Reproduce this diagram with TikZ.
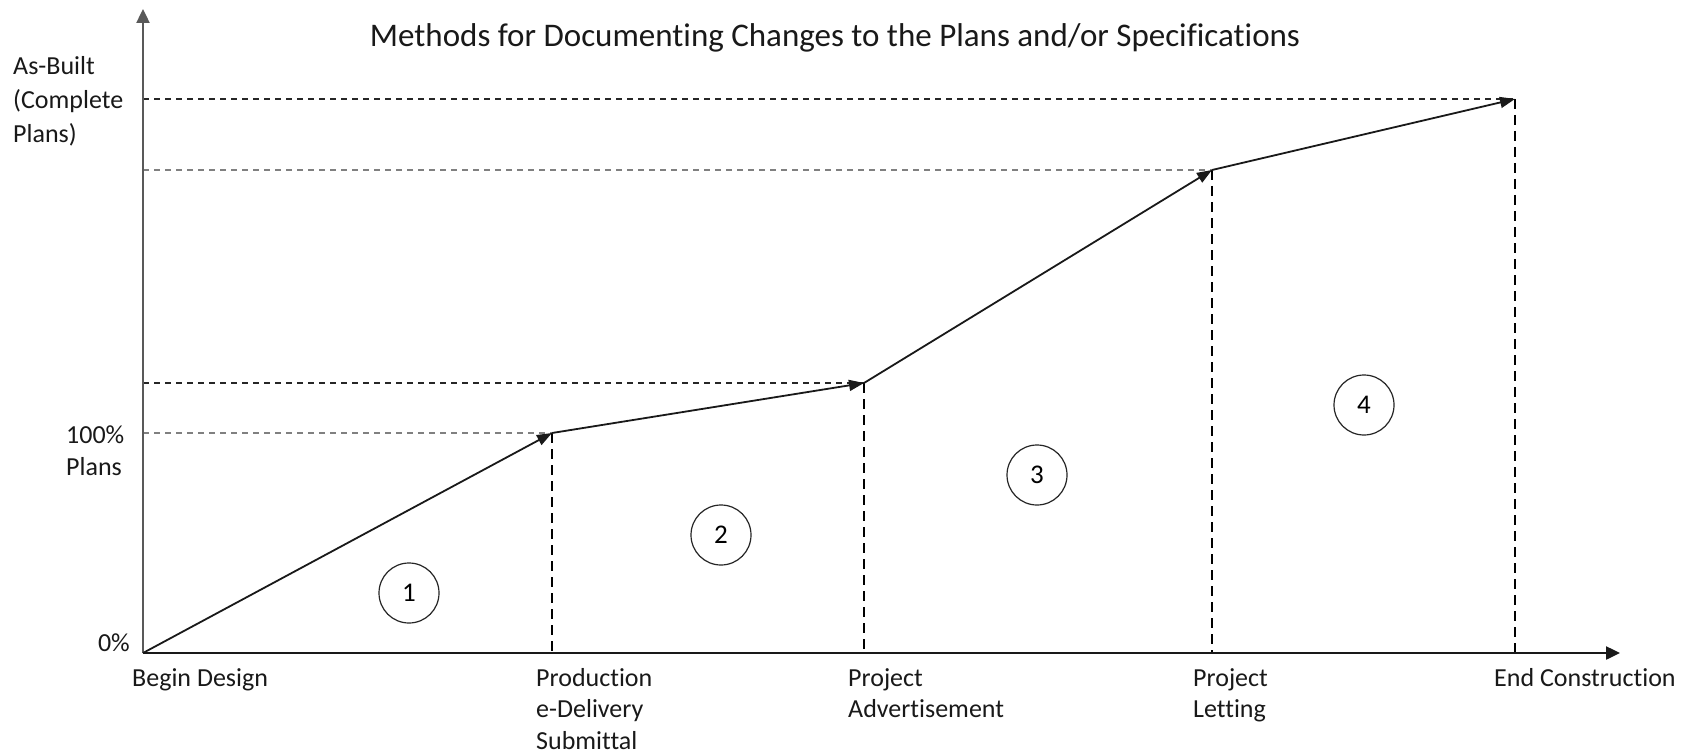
\documentclass[tikz,border=0pt]{standalone}
\usepackage{fontspec}
\setmainfont{Carlito}[Ligatures={NoCommon}]
\usetikzlibrary{arrows.meta}
\begin{document}
\begin{tikzpicture}[x=1pt,y=-1pt,
  lbl/.style={inner sep=0pt, align=left, font=\fontsize{26}{31.5}\selectfont, text=black!90},
  ttl/.style={inner sep=0pt, font=\fontsize{33}{38}\selectfont, text=black!90},
  num/.style={circle, draw=black!85, line width=1.2pt, minimum size=60pt, inner sep=0pt, font=\fontsize{27}{30}\selectfont},
  axisline/.style={line width=2.4pt, -{Triangle[length=14pt,width=13pt]}},
  seg/.style={line width=1.8pt, black!90, -{Triangle[length=15pt,width=11pt]}},
  hdash/.style={line width=1.4pt, dash pattern=on 6pt off 5pt},
  vdash/.style={line width=2.4pt, black, dash pattern=on 10pt off 6pt}]
\fill[white] (0,0) rectangle (1688,754);
\useasboundingbox (0,0) rectangle (1688,754);

\coordinate (O) at (143,653);
\coordinate (Ytop) at (143,9);
\coordinate (Xend) at (1620,653);
\coordinate (P1) at (552,433);
\coordinate (P2) at (864,383);
\coordinate (P3) at (1212,170);
\coordinate (P4) at (1515,99);

% horizontal guide lines
\draw[hdash, black!85] (O |- P4) -- (P4);
\draw[hdash, black!50] (O |- P3) -- (P3);
\draw[hdash, black!85] (O |- P2) -- (P2);
\draw[hdash, black!50] (O |- P1) -- (P1);

% vertical guide lines
\draw[vdash] (P1) -- (P1 |- O);
\draw[vdash] (P2) -- (P2 |- O);
\draw[vdash] (P3) -- (P3 |- O);
\draw[vdash] (P4) -- (P4 |- O);

% axes
\draw[axisline, black!65] (O) -- (Ytop);
\draw[axisline, black!90] (O) -- (Xend);

% progress line
\draw[seg] (O) -- (P1);
\draw[seg] (P1) -- (P2);
\draw[seg] (P2) -- (P3);
\draw[seg] (P3) -- (P4);

% title
\node[ttl] (title) at (835,38) {Methods for Documenting Changes to the Plans and/or Specifications};

% y labels
\node[lbl, anchor=north west, font=\fontsize{26}{34}\selectfont] (asbuilt) at (13,56) {As-Built\\(Complete\\Plans)};
\node[lbl, anchor=north west] (plans100) at (66,426) {100\%\\Plans};
\node[lbl, anchor=north east] (zero) at (130,634) {0\%};

% x labels
\node[lbl, anchor=north west] (begin) at (132,668) {Begin Design};
\node[lbl, anchor=north west] (prod) at (536,668) {Production\\e-Delivery\\Submittal};
\node[lbl, anchor=north west] (adv) at (848,668) {Project\\Advertisement};
\node[lbl, anchor=north west] (let) at (1193,668) {Project\\Letting};
\node[lbl, anchor=north west] (endc) at (1494,668) {End Construction};

% numbered circles
\node[num] (c1) at (409,593) {1};
\node[num] (c2) at (721,535) {2};
\node[num] (c3) at (1037,475) {3};
\node[num] (c4) at (1364,405) {4};
\end{tikzpicture}
\end{document}
